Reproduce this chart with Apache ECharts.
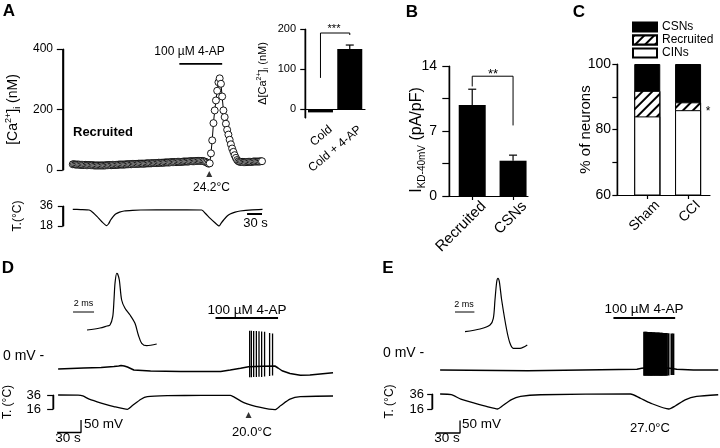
<!DOCTYPE html>
<html><head><meta charset="utf-8">
<script src="https://cdn.jsdelivr.net/npm/echarts@6/dist/echarts.min.js"></script>
<style>html,body{margin:0;padding:0;background:#fff}#c{width:720px;height:448px}</style>
</head><body><div id="c"></div>
<script>
const FONT = '"Liberation Sans", Arial, Helvetica, sans-serif';

// ---------- Panel A : [Ca2+]i trace (nM), one sample every caDt s ----------
const caDt = 2.5;
const caTrace = [
19,19,18,18,18,18,17,17,17,17,
17,16,16,16,16,16,16,15,15,15,
15,15,15,15,15,15,15,16,16,16,
16,16,17,17,17,17,17,18,18,18,
18,18,18,19,19,19,19,19,20,20,
20,20,20,21,21,21,21,21,21,22,
22,22,22,22,23,23,23,23,23,24,
24,24,24,24,25,25,25,25,25,26,
26,26,26,26,27,27,27,27,27,28,
28,28,28,28,29,29,29,29,29,30,
30,30,30,30,30,29,28,26,24,21,
22,55,98,155,197,230,262,290,303,285,
243,197,175,153,133,117,100,85,71,60,
49,40,33,29,27,27,27,26,26,26,
27,27,27,27,27,28,28,28,28,28,
28,29,29];
const tempA_t = [0,16,33,41,49,58,68,72,76,81,86,94,103,120,136,200,259,267,276,285,294,298,303,309,316,326,336,360,381];
const tempA_v = [33,32.8,32.4,30,26.4,22,18.3,20,23.4,26.5,28.8,30.5,31.5,32.1,32.4,32.5,32.4,29,24.9,21.2,18,20.5,23.4,26.5,28.8,30.5,31.5,32.6,33];
const apA = [214, 300];          // 4-AP application (s)
const onsetA = 274;              // onset of Ca rise (s)

// ---------- Panel A inset ----------
const insetCats = ['Cold', 'Cold + 4-AP'];
const insetMean = [-8, 150];
const insetSem = [0, 10];

// ---------- Panel B ----------
const bCats = ['Recruited', 'CSNs'];
const bMean = [9.8, 3.8];
const bSem = [1.7, 0.6];

// ---------- Panel C ----------
const cCats = ['Sham', 'CCI'];
const cCINs = [84.0, 85.9];
const cRecruited = [7.8, 2.4];
const cCSNs = [8.2, 11.7];

// ---------- Panel D ----------
const dAP_ms = [0,1.24,1.9,2.19,2.45,2.57,2.67,2.83,2.92,3.08,3.3,3.62,4.1,4.57,4.89,5.21,5.69,6.64];
const dAP_mV = [-60,-56.5,-53,-51.3,-36.7,-7.5,22.3,39.2,38,27.5,-7.5,-22,-33.8,-48.3,-68.8,-83.3,-87.5,-84.5];
const dVm_t = [0,32,54,70,76,79,83,87,95,116,154,179,204,216,229,239,256,272,276,281,291,304,316,345];
const dVm_v = [-52,-48,-46,-42,-40,-38,-40,-44,-56,-60,-62,-62,-62,-56,-49,-43,-41,-40,-48,-59,-70,-77,-76,-67];
const dSpike_t = [240.4,242.5,245.4,248.8,252.1,255.4,259.1,265.4,269.1];
const dSpike_peak = [101,101,100,100,99,98,97,92,90];
const dSpike_trough = [-85,-85,-84,-84,-83,-84,-82,-80,-78];
const dTemp_t = [0,25,31,39,54,70,87,93,104,112,137,180,216,220,233,254,272,279,291,304,345];
const dTemp_v = [36,35.8,34.6,30,24.5,19.5,15.5,20.6,30,33.6,35,35.5,35.6,33.6,25.2,18.2,15,20.6,30,33.6,34.6];
const apD = [197.5, 276];
const onsetD = 239;

// ---------- Panel E ----------
const eAP_ms = [0,1.55,2.58,2.92,3.09,3.27,3.4,3.54,3.78,4.3,4.64,4.98,5.67,6.42];
const eAP_mV = [-60,-55.3,-48.3,-36.6,-4.5,27.5,33.5,27.5,-4.5,-57,-80.3,-89,-89,-83.3];
const eVm_t = [0,110,247,253,256,286,297,318,349];
const eVm_v = [-68,-71,-65,-61,-60,-60,-65,-68,-68];
const eSpike_t = [256.2,257.6,259.0,260.5,261.8,263.3,264.7,266.0,267.5,268.9,270.2,271.7,273.0,274.5,275.8,277.3,278.6,280.0,281.5,282.8,284.3,286.5,290.5,292.6];
const eSpike_peak = [85,85,85,84,84,84,84,83,83,83,82,82,82,82,81,81,81,80,80,80,80,79,78,78];
const eSpike_trough = [-91,-91,-91,-91,-91,-91,-91,-91,-91,-91,-91,-91,-91,-91,-91,-91,-91,-91,-91,-91,-91,-90,-88,-88];
const eTemp_t = [0,14,26,43,60,72,78,89,101,126,239,251,264,287,295,307.5,322,349];
const eTemp_v = [36,35.2,29.2,23.8,18.8,16,20,28.2,32.7,35,36,30.5,23.8,16,20,28.2,32.7,35];
const apE = [217.5, 295];

// ================= helpers =================
const BLACK = '#000';
const lineS = () => ({color: BLACK, width: 1.2});
// x origin of each panel's plotting box (layout): data x is shifted so the box starts at 0
const OX = {A: 20, inset: 0.52, B: 0.561, C: 0.732, D: 6.25, E: 10, Dap: 1.619, Eap: 1.546};
const pts = (xs, ys, off) => xs.map((v, i) => [v + off, ys[i]]);
const sh = (arr, off) => arr.map(p => [p[0] + off, p[1]]);

function line(gi, data, w, extra) {
  return Object.assign({type: 'line', xAxisIndex: gi, yAxisIndex: gi, data, symbol: 'none',
    lineStyle: {color: BLACK, width: w}, clip: false, silent: true, animation: false}, extra || {});
}
function hiddenAx(gi, min, max) { return {type: 'value', gridIndex: gi, min, max, show: false, splitLine: {show: false}}; }
function yAx(gi, min, max, interval, tickLen, margin, fs, extra) {
  const o = {type: 'value', gridIndex: gi, min, max, position: 'left',
    axisLine: {show: true, onZero: true, lineStyle: lineS()},
    axisTick: {show: true, length: tickLen, lineStyle: lineS()},
    axisLabel: {show: true, margin, fontSize: fs, color: BLACK, fontFamily: FONT},
    splitLine: {show: false}, nameMoveOverlap: false};
  if (interval) o.interval = interval;
  return Object.assign(o, extra || {});
}
function nameStyle(fs, subFs, lh, pad) {
  return {fontSize: fs, fontFamily: FONT, color: BLACK, lineHeight: lh, padding: pad || 0,
    rich: {
      sup: {fontSize: subFs, lineHeight: subFs, verticalAlign: 'top', fontFamily: FONT, color: BLACK},
      sub: {fontSize: subFs, lineHeight: subFs, verticalAlign: 'bottom', fontFamily: FONT, color: BLACK}
    }};
}
const EPS = 0.004;   // fraction of the x range: keeps x = 0 just inside the box
function catX(gi, span, off, cats, labelShift, tick, fs, rot, margin) {
  return {type: 'value', gridIndex: gi, min: -span * EPS, max: span,
    axisLine: {show: true, onZero: true, lineStyle: lineS()},
    axisTick: {show: tick, length: 4, lineStyle: lineS(), customValues: cats.map((c, i) => i + off)},
    axisLabel: {show: true, customValues: cats.map((c, i) => i + off + labelShift),
      formatter: v => cats[Math.floor(v - off + 1e-6)], rotate: rot, fontSize: fs, margin, color: BLACK, fontFamily: FONT},
    splitLine: {show: false}};
}
const errRender = (cap) => (params, api) => {
  const x = api.value(0);
  const a = api.coord([x, api.value(1)]);
  const b = api.coord([x, api.value(2)]);
  return {type: 'group', children: [
    {type: 'line', shape: {x1: a[0], y1: a[1], x2: b[0], y2: b[1]}, style: {stroke: BLACK, lineWidth: 1.2}},
    {type: 'line', shape: {x1: b[0] - cap, y1: b[1], x2: b[0] + cap, y2: b[1]}, style: {stroke: BLACK, lineWidth: 1.2}}
  ]};
};
const spikeRender = (w) => (params, api) => {
  const t = api.value(0);
  const a = api.coord([t, api.value(1)]);
  const b = api.coord([t, api.value(2)]);
  return {type: 'line', shape: {x1: a[0], y1: a[1], x2: b[0], y2: b[1]}, style: {stroke: BLACK, lineWidth: w}};
};
function errSeries(gi, off, mean, sem, cap) {
  return {type: 'custom', xAxisIndex: gi, yAxisIndex: gi, silent: true, z: 5,
    data: mean.map((m, i) => [i + off, m, m + sem[i]]).filter((d, i) => sem[i] > 0),
    encode: {x: 0, y: [1, 2]}, renderItem: errRender(cap)};
}
function spikeSeries(gi, off, t, pk, tr, w) {
  return {type: 'custom', xAxisIndex: gi, yAxisIndex: gi, silent: true, z: 4,
    data: t.map((v, i) => [v + off, pk[i], tr[i]]), encode: {x: 0, y: [1, 2]}, renderItem: spikeRender(w)};
}
// y-axis spine at x = 0 (the axis position), spanning the axis extent
const spine = (gi, yMin, yMax) => line(gi, [[0, yMin], [0, yMax]], 1.3, {z: 10,
  markLine: {silent: true, symbol: 'none', label: {show: false}, animation: false,
    lineStyle: {color: BLACK, width: 1.3, type: 'solid'}, emphasis: {disabled: true}, data: [{xAxis: 0}]}});
function txt(text, x, y, fs, opt) {
  opt = opt || {};
  return {type: 'text', x, y, silent: true, z: 100,
    style: {text, fontSize: fs, fontFamily: FONT, fontWeight: opt.bold ? 'bold' : 'normal', fill: BLACK,
      textAlign: opt.align || 'center', textVerticalAlign: 'middle', verticalAlign: 'middle'}};
}

// ================= layout =================
const G = (left, top, width, height) => ({left, top, width, height, outerBoundsMode: 'none', containLabel: false});
const grid = [
  G(62, 49, 203, 121),   // 0 A Ca
  G(62, 206, 203, 20),   // 1 A temp
  G(305, 29, 60, 89),    // 2 A inset
  G(449, 66, 79, 130),   // 3 B
  G(617, 64, 93, 131),   // 4 C
  G(70, 270, 100, 80),   // 5 D AP inset
  G(52, 310, 288, 74),   // 6 D Vm
  G(52, 395, 288, 14),   // 7 D temp
  G(450, 270, 90, 80),   // 8 E AP inset
  G(431, 310, 289, 74),  // 9 E Vm
  G(431, 394, 289, 15)   // 10 E temp
];

const xAxis = [
  hiddenAx(0, -406 * EPS, 406),
  hiddenAx(1, -406 * EPS, 406),
  catX(2, 2.04, OX.inset, insetCats, 0.35, false, 12, 40, 10),
  catX(3, 1.927, OX.B, bCats, 0.28, true, 15, 45, 8),
  catX(4, 2.269, OX.C, cCats, 0.25, true, 14, 45, 8),
  hiddenAx(5, 0, 9.524),
  hiddenAx(6, -360 * EPS, 360),
  hiddenAx(7, -360 * EPS, 360),
  hiddenAx(8, 0, 9.278),
  hiddenAx(9, -361.25 * EPS, 361.25),
  hiddenAx(10, -361.25 * EPS, 361.25)
];

const yAxis = [
  yAx(0, 0, 400, 200, 6, 9, 12, {name: '[Ca{sup|2+}]{sub|i} (nM)', nameLocation: 'middle', nameGap: 40, nameTextStyle: nameStyle(14, 9, 18)}),
  yAx(1, 18, 36, 18, 5, 9, 12, {name: 'T.(°C)', nameLocation: 'middle', nameGap: 37, nameTextStyle: nameStyle(12, 8, 14)}),
  yAx(2, -22, 200, null, 5, 9, 11, {
    axisLabel: {show: true, margin: 9, fontSize: 11, color: BLACK, fontFamily: FONT, customValues: [0, 100, 200]},
    axisTick: {show: true, length: 5, lineStyle: lineS(), customValues: [0, 100, 200]},
    name: 'Δ[Ca{sup|2+}]{sub|i} (nM)', nameLocation: 'middle', nameGap: 35, nameTextStyle: nameStyle(11, 7, 14)}),
  yAx(3, 0, 14, 3.5, 7, 12, 14, {
    axisLabel: {show: true, margin: 12, fontSize: 14, color: BLACK, fontFamily: FONT, formatter: v => (v % 7 === 0 ? String(v) : '')},
    name: 'I{sub|KD-40mV} (pA/pF)', nameLocation: 'middle', nameGap: 22, nameTextStyle: nameStyle(16, 10, 20, [0, 18, 0, 0])}),
  yAx(4, 60, 100, 10, 5, 6, 14, {
    axisLabel: {show: true, margin: 6, fontSize: 14, color: BLACK, fontFamily: FONT, formatter: v => (v % 20 === 0 ? String(v) : '')},
    name: '% of neurons', nameLocation: 'middle', nameGap: 22, nameTextStyle: nameStyle(15, 9, 18)}),
  hiddenAx(5, -95, 45),
  hiddenAx(6, -112, 184),
  yAx(7, 16, 36, 20, 6, 11, 13, {name: 'T. (°C)', nameLocation: 'middle', nameGap: 37, nameTextStyle: nameStyle(12, 8, 14)}),
  hiddenAx(8, -92, 48),
  hiddenAx(9, -124, 172),
  yAx(10, 16, 36, 20, 5, 7, 13, {name: 'T. (°C)', nameLocation: 'middle', nameGap: 34, nameTextStyle: nameStyle(12, 8, 14)})
];

const hatch = {symbol: 'rect', symbolSize: 1, color: BLACK, backgroundColor: '#fff',
  dashArrayX: [1, 0], dashArrayY: [1.2, 4.2], rotation: -Math.PI / 4};

// cumulative tops for the stacked columns of panel C
const cTop1 = cCINs;
const cTop2 = cCINs.map((v, i) => v + cRecruited[i]);
const cTop3 = cTop2.map((v, i) => v + cCSNs[i]);
const cBar = (name, tops, z, style) => ({type: 'bar', name, xAxisIndex: 4, yAxisIndex: 4, z,
  data: tops.map((v, i) => [i + OX.C, v]), barWidth: 26, barGap: '-100%', itemStyle: style, silent: true});
const idx = (vals, off) => vals.map((v, i) => [i + off, v]);

const series = [
  // A Ca trace
  {type: 'line', xAxisIndex: 0, yAxisIndex: 0, data: caTrace.map((v, i) => [i * caDt + OX.A, v]),
   symbol: 'circle', symbolSize: 7, showAllSymbol: true, silent: true,
   itemStyle: {color: '#fff', borderColor: BLACK, borderWidth: 0.9}, lineStyle: {color: BLACK, width: 1}},
  line(0, sh([[apA[0], 351], [apA[1], 351]], OX.A), 1.8),
  {type: 'scatter', xAxisIndex: 0, yAxisIndex: 0, data: [[onsetA + OX.A, -13]], symbol: 'triangle', symbolSize: [6, 6],
   itemStyle: {color: BLACK}, clip: false, silent: true},
  line(1, pts(tempA_t, tempA_v, OX.A), 1.2, {smooth: 0.2}),
  line(1, sh([[350, 28.8], [380, 28.8]], OX.A), 2),
  spine(0, 0, 400), spine(1, 18, 36),
  // inset
  {type: 'bar', xAxisIndex: 2, yAxisIndex: 2, data: idx(insetMean, OX.inset), barWidth: 25,
   itemStyle: {color: BLACK}, silent: true},
  errSeries(2, OX.inset, insetMean, insetSem, 4),
  line(2, sh([[0, 78], [0, 190], [1, 190], [1, 185]], OX.inset), 1),
  spine(2, -22, 200),
  // B
  {type: 'bar', xAxisIndex: 3, yAxisIndex: 3, data: idx(bMean, OX.B), barWidth: 27,
   itemStyle: {color: BLACK}, silent: true},
  errSeries(3, OX.B, bMean, bSem, 4),
  line(3, sh([[0, 11.8], [0, 12.9], [1, 12.9], [1, 7.6]], OX.B), 1),
  spine(3, 0, 14),
  // C (stacked: CINs bottom, Recruited middle, CSNs top)
  cBar('CSNs', cTop3, 2, {color: BLACK, borderColor: BLACK, borderWidth: 1}),
  cBar('Recruited', cTop2, 3, {color: '#fff', borderColor: BLACK, borderWidth: 1, decal: hatch}),
  cBar('CINs', cTop1, 4, {color: '#fff', borderColor: BLACK, borderWidth: 1}),
  spine(4, 60, 100),
  // D
  line(5, pts(dAP_ms, dAP_mV, OX.Dap), 1.2, {smooth: 0.3}),
  line(5, sh([[-1.33, -28.5], [0.67, -28.5]], OX.Dap), 1),
  line(6, pts(dVm_t, dVm_v, OX.D), 1.5),
  spikeSeries(6, OX.D, dSpike_t, dSpike_peak, dSpike_trough, 1.3),
  line(6, sh([[apD[0], 152], [apD[1], 152]], OX.D), 1.8),
  line(6, sh([[-1.25, -306], [28.75, -306], [28.75, -256]], OX.D), 1.3),
  {type: 'scatter', xAxisIndex: 6, yAxisIndex: 6, data: [[onsetD + OX.D, -236]], symbol: 'triangle', symbolSize: [6, 6],
   itemStyle: {color: BLACK}, clip: false, silent: true},
  line(7, pts(dTemp_t, dTemp_v, OX.D), 1.3, {smooth: 0.2}),
  spine(7, 16, 36),
  // E
  line(8, pts(eAP_ms, eAP_mV, OX.Eap), 1.2, {smooth: 0.3}),
  line(8, sh([[-1.03, -25.5], [0.97, -25.5]], OX.Eap), 1),
  line(9, pts(eVm_t, eVm_v, OX.E), 1.5),
  spikeSeries(9, OX.E, eSpike_t, eSpike_peak, eSpike_trough, 2.2),
  line(9, sh([[apE[0], 140], [apE[1], 140]], OX.E), 1.8),
  line(9, sh([[-5, -320], [25, -320], [25, -270]], OX.E), 1.3),
  line(10, pts(eTemp_t, eTemp_v, OX.E), 1.3, {smooth: 0.2}),
  spine(10, 16, 36)
];

const graphic = [
  txt('A', 9, 11, 17, {bold: true}), txt('B', 412, 12, 17, {bold: true}), txt('C', 579, 12, 17, {bold: true}),
  txt('D', 8, 268, 17, {bold: true}), txt('E', 388, 268, 17, {bold: true}),
  txt('100 µM 4-AP', 189.5, 52, 12), txt('Recruited', 73, 132, 13, {bold: true, align: 'left'}),
  txt('24.2°C', 211.5, 187.5, 12), txt('30 s', 255.5, 223, 13),
  txt('***', 334, 29, 11), txt('**', 493, 74, 13), txt('*', 708, 112, 12),
  txt('2 ms', 83.5, 304, 9), txt('100 µM 4-AP', 247, 310, 13.5), txt('0 mV -', 3, 356, 14, {align: 'left'}),
  txt('50 mV', 84, 424, 13.5, {align: 'left'}), txt('30 s', 68, 438, 13.5), txt('20.0°C', 252, 432, 13),
  txt('2 ms', 464, 305, 9), txt('100 µM 4-AP', 644, 309, 13.5), txt('0 mV -', 383, 353, 14, {align: 'left'}),
  txt('50 mV', 462, 424, 13.5, {align: 'left'}), txt('30 s', 447, 438, 13.5), txt('27.0°C', 650, 428, 13)
];

const chart = echarts.init(document.getElementById('c'), null, {renderer: 'canvas'});
chart.setOption({
  animation: false,
  backgroundColor: '#fff',
  textStyle: {fontFamily: FONT, color: BLACK},
  legend: {data: ['CSNs', 'Recruited', 'CINs'], orient: 'vertical', left: 627, top: 16, itemWidth: 24, itemHeight: 9,
    itemGap: 1, icon: 'rect', selectedMode: false, textStyle: {fontSize: 12, color: BLACK, fontFamily: FONT}},
  grid, xAxis, yAxis, series, graphic
});
</script></body></html>
